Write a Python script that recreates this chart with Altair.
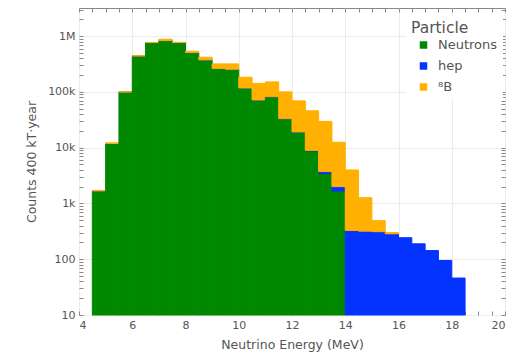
import altair as alt
import pandas as pd

# Bin edges (MeV)
bin_lo = [4.5, 5.0, 5.5, 6.0, 6.5, 7.0, 7.5, 8.0, 8.5, 9.0, 9.5, 10.0, 10.5, 11.0,
          11.5, 12.0, 12.5, 13.0, 13.5, 14.0, 14.5, 15.0, 15.5, 16.0, 16.5, 17.0, 17.5, 18.0]
bin_hi = [5.0, 5.5, 6.0, 6.5, 7.0, 7.5, 8.0, 8.5, 9.0, 9.5, 10.0, 10.5, 11.0, 11.5,
          12.0, 12.5, 13.0, 13.5, 14.0, 14.5, 15.0, 15.5, 16.0, 16.5, 17.0, 17.5, 18.0, 18.5]

# Counts per bin, per particle (stacked in this order)
neutrons = [1670, 11900, 99600, 442000, 767000, 833000, 767000, 507000, 375000, 264000,
            255000, 117500, 71500, 82000, 33000, 19000, 8760, 3440, 1670,
            0, 0, 0, 0, 0, 0, 0, 0, 0]
hep = [4, 8, 15, 25, 35, 45, 55, 65, 75, 85, 95, 105, 115, 125, 140, 160,
       200, 290, 334, 328, 319, 312, 286, 243, 189, 143, 95, 46]
boron8 = [40, 300, 800, 4000, 5000, 50000, 10000, 30000, 44000, 54000, 63000, 66000,
          71000, 69000, 67000, 50000, 37000, 25900, 10500, 3660, 950, 180, 16,
          0, 0, 0, 0, 0]

series_names = ["Neutrons", "hep", "\u2078B"]
series_colors = ["#008800", "#0433FF", "#FFB000"]

x_major = [4, 6, 8, 10, 12, 14, 16, 18, 20]
x_minor = [4 + 0.5 * i for i in range(33)]
y_major = [10, 100, 1000, 10000, 100000, 1000000]
y_minor = [m * 10 ** e for e in range(1, 7) for m in range(1, 10) if m * 10 ** e <= 3e6]

AXIS_FLOOR = 10

rows = []
for i in range(len(bin_lo)):
    cum = 0
    for name, vals in zip(series_names, [neutrons, hep, boron8]):
        v = vals[i]
        if v > 0:
            lo = cum if cum > 0 else AXIS_FLOOR
            rows.append({"x0": bin_lo[i], "x1": bin_hi[i], "lo": lo, "hi": cum + v,
                         "Particle": name})
        cum += v
df = pd.DataFrame(rows)

xscale = alt.Scale(domain=[4, 20], nice=False, zero=False)
yscale = alt.Scale(type="log", domain=[10, 3.2e6], nice=False)
cscale = alt.Scale(domain=series_names, range=series_colors)

txt = "#555555"
ylab = ("datum.value >= 1e6 ? round(datum.value/1e6) + 'M' : "
        "datum.value >= 1e3 ? round(datum.value/1e3) + 'k' : round(datum.value) + ''")

bars = alt.Chart(df).mark_rect(strokeWidth=1).encode(
    x=alt.X("x0:Q", scale=xscale,
            axis=alt.Axis(values=x_major, format="d", grid=True, gridColor="#ececec",
                          ticks=False, domain=False, labelFontSize=11, labelColor=txt,
                          labelPadding=4, title="Neutrino Energy (MeV)",
                          titleFontSize=12.5, titleColor=txt, titleFontWeight="normal",
                          titlePadding=8)),
    x2="x1:Q",
    y=alt.Y("hi:Q", scale=yscale,
            axis=alt.Axis(values=y_major, labelExpr=ylab, grid=True, gridColor="#ececec",
                          ticks=False, domain=False, labelFontSize=11, labelColor=txt,
                          labelPadding=4, title="Counts 400 kT\u00b7year",
                          titleFontSize=12.5, titleColor=txt, titleFontWeight="normal",
                          titlePadding=9)),
    y2="lo:Q",
    stroke=alt.Stroke("Particle:N", scale=cscale, legend=None),
    color=alt.Color("Particle:N", scale=cscale,
                    legend=alt.Legend(title="Particle", orient="none", legendX=327,
                                      legendY=8, fillColor="white", padding=5,
                                      titleFontSize=15.5, titleFontWeight="normal",
                                      titleColor=txt, labelFontSize=13, labelColor=txt,
                                      symbolType="square", symbolSize=56,
                                      symbolStrokeWidth=0, symbolOffset=6,
                                      rowPadding=7, titlePadding=2, labelOffset=8)),
)


def tick_layer(xorient, yorient):
    return alt.Chart(df).mark_point(opacity=0).encode(
        x=alt.X("x0:Q", scale=xscale,
                axis=alt.Axis(orient=xorient, values=x_minor, labels=False, ticks=True,
                              tickSize=4, tickColor="#888888", domain=False, grid=False,
                              offset=-4, title=None)),
        y=alt.Y("hi:Q", scale=yscale,
                axis=alt.Axis(orient=yorient, values=y_minor, labels=False, ticks=True,
                              tickSize=4, tickColor="#888888", domain=False, grid=False,
                              offset=-4, title=None)),
    )


chart = alt.layer(bars, tick_layer("bottom", "left"), tick_layer("top", "right")).resolve_axis(
    x="independent", y="independent"
).properties(
    width=426, height=307,
    padding={"left": 79, "top": 8, "right": 15, "bottom": 38},
    autosize=alt.AutoSizeParams(type="none"),
).configure(font="DejaVu Sans").configure_view(stroke="#888888", strokeWidth=1)

chart.save("out.html", embed_options={"renderer": "svg", "actions": False})
